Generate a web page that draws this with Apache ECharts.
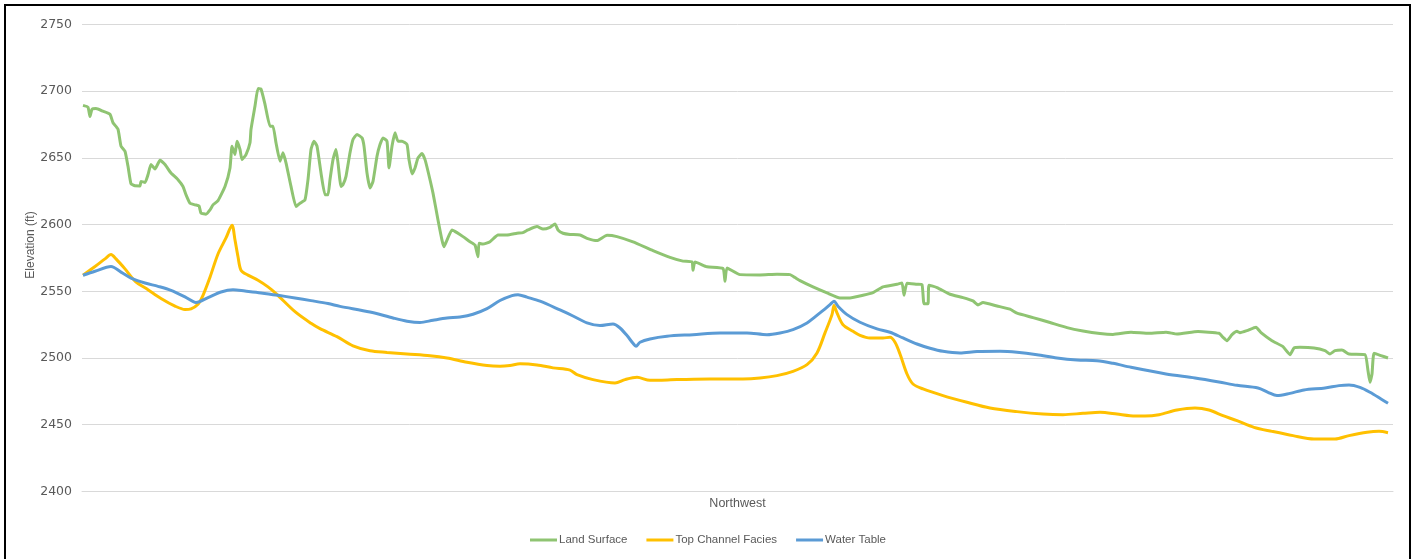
<!DOCTYPE html>
<html>
<head>
<meta charset="utf-8">
<title>Elevation profile – Northwest</title>
<script src="https://cdn.jsdelivr.net/npm/echarts@6/dist/echarts.min.js"></script>
<style>
  html, body { margin: 0; padding: 0; background: #ffffff; }
  #chart { width: 1416px; height: 559px; }
</style>
</head>
<body>
<div id="chart"></div>
<script>
// Distance along the profile (arbitrary stations) and elevations in feet.
const landDist = [1,6,8,10,14,21,28,31,36,39,43,46,49,53,58,59,63,66,69,73,78,83,89,96,101,104,108,113,117,119,124,128,131,136,143,148,150,153,155,158,160,164,168,169,173,176,179,183,188,191,194,198,201,204,209,214,218,223,226,229,232,235,239,243,246,248,251,254,256,259,261,264,268,271,275,280,282,285,288,291,295,298,301,305,307,310,313,316,320,325,327,330,333,336,340,343,346,351,356,360,362,365,370,375,381,388,393,396,397,401,408,416,425,435,441,446,455,461,468,473,476,481,488,498,505,515,525,535,551,571,588,601,610,611,613,625,641,643,645,658,678,695,708,713,718,731,745,758,768,781,791,801,815,820,822,825,835,840,842,846,847,855,868,881,891,896,901,915,928,935,951,968,985,1001,1018,1031,1049,1067,1084,1095,1116,1137,1141,1145,1150,1155,1158,1165,1174,1179,1190,1201,1208,1212,1218,1232,1243,1248,1253,1260,1267,1283,1286,1288,1290,1292,1299,1306];
const landElev = [2689.4,2688,2681,2686.4,2687,2685,2682.7,2676.4,2671.4,2658.8,2655,2643.7,2630.6,2629.1,2629,2632.4,2631.6,2637.4,2645,2641.7,2648.2,2645,2638.7,2633.7,2628.6,2622.4,2616,2614.8,2614,2608.6,2607.8,2611,2614.8,2618,2628.6,2642.5,2658.8,2652.5,2662.5,2656.3,2648.7,2652.5,2661.3,2671.4,2688.9,2702,2701.5,2690.2,2673.8,2673.8,2661.3,2647.5,2653.8,2646.3,2628.6,2613.5,2616,2618.6,2633.7,2656.3,2662.5,2658.8,2638.7,2622.4,2622.4,2633.7,2648.7,2656.3,2646.3,2628.6,2630,2636.2,2653.8,2663.8,2667.6,2665,2658.8,2638.7,2627.4,2632.4,2651.2,2660,2665,2662.5,2642.5,2658.8,2668.9,2662.5,2662.5,2660,2648.7,2638,2642.5,2650,2653.3,2648.7,2640,2623.6,2603.5,2588.4,2583.4,2588.4,2596,2594,2591,2587.2,2584.7,2575.9,2586,2585.4,2587.2,2592.2,2592.2,2593.5,2594,2596,2598.5,2596.7,2598,2600.5,2596,2593.5,2592.6,2592.2,2589.7,2588,2592,2591,2587,2580.5,2575.4,2572.6,2572,2565.8,2572,2568.4,2567.1,2557.5,2567.5,2562.5,2562.3,2562.8,2562.5,2560.3,2558,2553.3,2548.8,2545,2545,2547,2549,2553.3,2555.3,2556.3,2547,2556,2555.3,2555,2540.7,2540.7,2554.6,2552.8,2547.8,2545.3,2542.8,2539.8,2541.6,2539,2536.6,2533.6,2530.3,2526.6,2522.8,2520.3,2518.4,2517.7,2519.3,2518.5,2519.3,2518,2519.8,2518.5,2515.5,2513,2517.5,2520,2519,2520.5,2523,2519,2513,2508.5,2502.5,2507.5,2508,2507.5,2505.5,2503,2505.5,2506,2503,2502.5,2490.5,2481.8,2488,2503.5,2501.8,2500];

const channelDist = [1,13,23,29,34,43,53,66,79,93,103,109,116,121,128,136,144,150,153,156,159,166,176,186,194,213,229,238,255,271,288,305,325,348,365,385,405,418,428,438,455,471,488,495,511,533,543,555,568,595,628,661,678,695,711,725,735,743,750,752,755,761,771,778,788,801,808,813,818,825,831,841,861,885,908,935,961,981,1001,1018,1035,1048,1063,1077,1095,1113,1127,1141,1155,1172,1190,1211,1232,1253,1267,1285,1297,1306];
const channelElev = [2562,2568.6,2574.3,2577.5,2574.3,2566.8,2557.7,2551.2,2544.6,2538.9,2536.4,2536.9,2540.3,2547,2560.6,2578,2590,2599.5,2588.4,2575.9,2565.8,2562.1,2558.3,2553.3,2548.3,2534.7,2526,2522,2516,2509.1,2505.4,2504.2,2503,2501.7,2500,2496.8,2494.4,2493.9,2494.4,2495.6,2494.8,2492.6,2490.9,2487.5,2483.8,2481.3,2483.8,2485.5,2483.3,2483.8,2484.3,2484.3,2485,2486.8,2490,2495,2503.8,2518.8,2532.5,2539.3,2533.8,2525,2520,2517,2515,2515,2515.5,2511.8,2503,2488,2480.5,2476.8,2471.8,2466.8,2462.5,2459.8,2458,2457.5,2458.5,2459.3,2458,2456.8,2456.5,2457.5,2461,2462.5,2461,2456.8,2453,2448,2445,2441.8,2439.3,2439.3,2441.8,2444.3,2445,2444];

const waterDist = [1,13,29,39,49,63,76,89,103,114,126,139,151,163,179,196,213,229,246,258,288,311,325,338,351,365,378,391,405,418,430,436,445,458,478,491,505,518,531,538,545,551,554,558,568,585,611,638,665,685,698,711,725,738,748,752,756,765,778,795,808,821,835,848,861,878,895,918,935,955,975,995,1015,1031,1049,1084,1113,1137,1155,1176,1186,1195,1208,1222,1243,1257,1267,1278,1288,1299,1306];
const waterElev = [2562,2565,2568.6,2564.4,2559.9,2556.2,2553.7,2550.7,2545.8,2541.6,2545.3,2549.5,2551.2,2550.2,2548.8,2547,2545,2543,2540.8,2538.7,2534.5,2530,2527.6,2526.6,2528.3,2530,2530.8,2532.8,2537,2543.1,2546.8,2547.5,2545.6,2542.6,2536,2531.5,2526.3,2524.3,2525.5,2522.5,2516.8,2511,2508.8,2511.8,2514.3,2516.3,2517.5,2518.8,2518.8,2517.5,2518.8,2521.3,2526.3,2533.8,2540,2542.5,2538.8,2532.5,2526.8,2521.8,2519.3,2515,2510.5,2507.3,2505,2503.8,2504.8,2505,2504.3,2502.5,2500,2498.5,2498,2496,2493,2488,2485,2482,2479.5,2477.5,2474.3,2471.8,2473.5,2476,2477.5,2479.3,2479.8,2478,2474.3,2469.3,2466];

const seriesNames = ['Land Surface', 'Top Channel Facies', 'Water Table'];
const seriesColors = ['#8fc472', '#ffc000', '#5b9bd5'];
const axisTitleX = 'Northwest';
const axisTitleY = 'Elevation (ft)';

const pairs = (xs, ys) => xs.map((x, i) => [x, ys[i]]);

const chart = echarts.init(document.getElementById('chart'), null, { renderer: 'canvas' });

const textFont = 'Liberation Sans, Arial, sans-serif';

chart.setOption({
  animation: false,
  backgroundColor: '#ffffff',
  color: seriesColors,
  graphic: [
    {
      // outer frame around the whole chart
      type: 'rect',
      silent: true,
      shape: { x: 5, y: 5, width: 1405, height: 600 },
      style: { fill: 'none', stroke: '#000000', lineWidth: 2 }
    },
    {
      // vertical axis title, set slightly above the plot's middle
      type: 'text',
      silent: true,
      x: 31,
      y: 245,
      rotation: Math.PI / 2,
      style: {
        text: axisTitleY,
        fill: '#595959',
        fontSize: 12,
        fontFamily: textFont,
        align: 'center',
        verticalAlign: 'middle'
      }
    }
  ],
  grid: { left: 82, right: 23, top: 24.5, bottom: 67.6, containLabel: false },
  legend: {
    data: seriesNames,
    bottom: 8,
    left: 'center',
    icon: 'rect',
    itemWidth: 27,
    itemHeight: 3,
    itemGap: 19,
    textStyle: { color: '#595959', fontSize: 11.5, fontFamily: textFont, padding: [0, 0, 0, -3] }
  },
  xAxis: {
    type: 'value',
    min: 0,
    max: 1311,
    name: axisTitleX,
    nameLocation: 'middle',
    nameGap: 6,
    nameTextStyle: { color: '#595959', fontSize: 12.5, fontFamily: textFont },
    axisLine: { show: true, lineStyle: { color: '#d9d9d9', width: 1 } },
    axisTick: { show: false },
    axisLabel: { show: false },
    splitLine: { show: false }
  },
  yAxis: {
    type: 'value',
    min: 2400,
    max: 2750,
    interval: 50,
    axisLine: { show: false },
    axisTick: { show: false },
    axisLabel: {
      color: '#595959',
      fontSize: 12.5,
      fontFamily: 'DejaVu Sans, sans-serif',
      margin: 10,
      formatter: (v) => String(v)
    },
    splitLine: { show: true, lineStyle: { color: '#d9d9d9', width: 1 } }
  },
  series: [
    {
      name: seriesNames[0],
      type: 'line',
      data: pairs(landDist, landElev),
      showSymbol: false,
      symbol: 'none',
      smooth: 0.15,
      lineStyle: { width: 3, color: seriesColors[0] },
      z: 2
    },
    {
      name: seriesNames[1],
      type: 'line',
      data: pairs(channelDist, channelElev),
      showSymbol: false,
      symbol: 'none',
      smooth: 0.3,
      lineStyle: { width: 3, color: seriesColors[1] },
      z: 3
    },
    {
      name: seriesNames[2],
      type: 'line',
      data: pairs(waterDist, waterElev),
      showSymbol: false,
      symbol: 'none',
      smooth: 0.3,
      lineStyle: { width: 3, color: seriesColors[2] },
      z: 4
    }
  ]
});
</script>
</body>
</html>
